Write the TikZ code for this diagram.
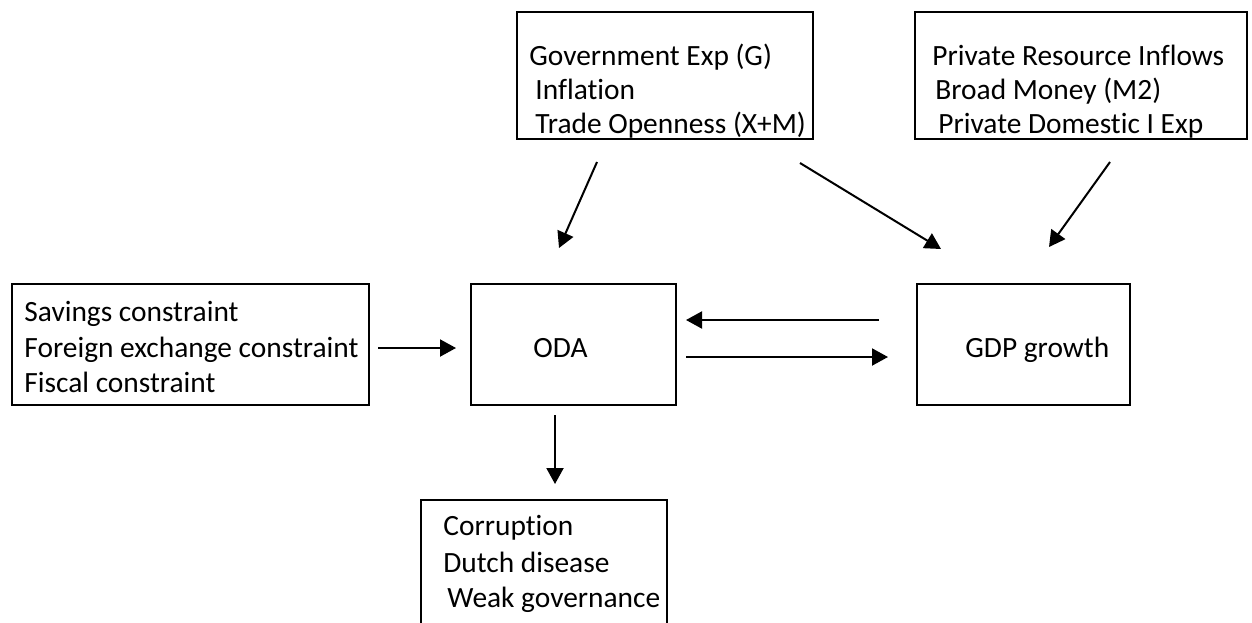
\documentclass[tikz,border=0pt]{standalone}
\usepackage{fontspec}
\setmainfont[Ligatures={NoCommon}]{Carlito}
\usetikzlibrary{arrows.meta}
\begin{document}
\begin{tikzpicture}[x=0.5pt,y=-0.5pt,
  box/.style={draw,line width=1pt,inner sep=0pt,outer sep=0pt},
  txt/.style={inner sep=0pt,anchor=base west,font=\fontsize{14.7}{17}\selectfont},
  arr/.style={line width=1pt,-{Triangle[length=8pt,width=8.5pt]}}]
\clip (0,0) rectangle (1252,622);
\fill[white] (0,0) rectangle (1252,622);
% boxes
\node[box,minimum width=148pt,minimum height=63.5pt] (gbox) at (665,75.5) {};
\node[box,minimum width=166pt,minimum height=63.5pt] (pbox) at (1081,75.5) {};
\node[box,minimum width=178.5pt,minimum height=60.5pt] (lbox) at (190.5,344.5) {};
\node[box,minimum width=102.5pt,minimum height=60.5pt] (oda) at (573.5,344.5) {};
\node[box,minimum width=106.5pt,minimum height=60.5pt] (gdp) at (1023.5,344.5) {};
\node[box,minimum width=123pt,minimum height=80pt] (bbox) at (544,580) {};
% texts
\node[txt] (g1) at (529,65) {Government Exp (G)};
\node[txt] (g2) at (535,99) {Inflation};
\node[txt] (g3) at (535,133) {Trade Openness (X+M)};
\node[txt] (p1) at (932,65) {Private Resource Inflows};
\node[txt] (p2) at (935,99) {Broad Money (M2)};
\node[txt] (p3) at (938,133) {Private Domestic I Exp};
\node[txt] (l1) at (24,321) {Savings constraint};
\node[txt] (l2) at (24,357) {Foreign exchange constraint};
\node[txt] (l3) at (24,392) {Fiscal constraint};
\node[txt] (odat) at (533,357) {ODA};
\node[txt] (gdpt) at (965,357) {GDP growth};
\node[txt] (b1) at (443,535) {Corruption};
\node[txt] (b2) at (443,572) {Dutch disease};
\node[txt] (b3) at (447,607) {Weak governance};
% arrow end points
\coordinate (a1s) at (378,348);  \coordinate (a1e) at (456,348);
\coordinate (a2s) at (879,320);  \coordinate (a2e) at (686,320);
\coordinate (a3s) at (686,357);  \coordinate (a3e) at (888,357);
\coordinate (a4s) at (555,415);  \coordinate (a4e) at (555,484);
\coordinate (a5s) at (597,162);  \coordinate (a5e) at (559,248);
\coordinate (a6s) at (800,163);  \coordinate (a6e) at (941,249);
\coordinate (a7s) at (1110,162); \coordinate (a7e) at (1049,247);
\draw[arr] (a1s) -- (a1e);
\draw[arr] (a2s) -- (a2e);
\draw[arr] (a3s) -- (a3e);
\draw[arr] (a4s) -- (a4e);
\draw[arr] (a5s) -- (a5e);
\draw[arr] (a6s) -- (a6e);
\draw[arr] (a7s) -- (a7e);
\end{tikzpicture}
\end{document}
